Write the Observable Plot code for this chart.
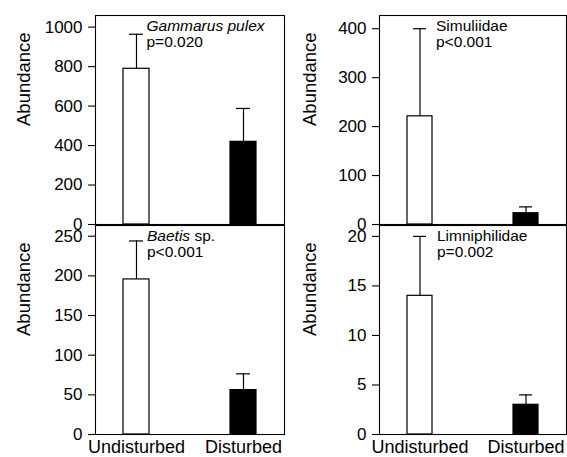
<!DOCTYPE html>
<html><head><meta charset="utf-8">
<script src="https://cdn.jsdelivr.net/npm/d3@7"></script>
<script src="https://cdn.jsdelivr.net/npm/@observablehq/plot@0.6"></script>
<style>
body{margin:0;background:#fff;}
#chart{position:relative;width:567px;height:457px;overflow:hidden;font-family:"Liberation Sans",Arial,sans-serif;}
#chart svg{position:absolute;overflow:visible;}
</style></head><body><div id="chart"></div>
<script>
// ---- data ----
const treatments = ["Undisturbed", "Disturbed"];
const taxa = ["Gammarus pulex", "Simuliidae", "Baetis sp.", "Limniphilidae"];
const pValues = ["p=0.020", "p<0.001", "p<0.001", "p=0.002"];
const yLabel = "Abundance";
const gammarusMean = [789, 419];
const gammarusSE = [175, 169];
const simuliidaeMean = [221, 23];
const simuliidaeSE = [179, 13];
const baetisMean = [195.5, 56];
const baetisSE = [48.5, 20.5];
const limniMean = [14, 3];
const limniSE = [6, 1];
const gammarusTicks = [0, 200, 400, 600, 800, 1000];
const simuliidaeTicks = [0, 100, 200, 300, 400];
const baetisTicks = [0, 50, 100, 150, 200, 250];
const limniTicks = [0, 5, 10, 15, 20];
const yMaxima = [1059, 427, 263.5, 21.1];

const means = [gammarusMean, simuliidaeMean, baetisMean, limniMean];
const ses = [gammarusSE, simuliidaeSE, baetisSE, limniSE];
const ticks = [gammarusTicks, simuliidaeTicks, baetisTicks, limniTicks];

// ---- layout (positions only) ----
const layout = [
  {left: 0,   top: 0,   width: 290, height: 228, ml: 95, mr: 6, mt: 15, mb: 4,  showX: false, labelDx: -71, titleDx: 51},
  {left: 285, top: 0,   width: 282, height: 228, ml: 94, mr: 1, mt: 15, mb: 4,  showX: false, labelDx: -69, titleDx: 56.5},
  {left: 0,   top: 224, width: 290, height: 233, ml: 95, mr: 6, mt: 1,  mb: 23, showX: true,  labelDx: -71, titleDx: 51.5},
  {left: 285, top: 224, width: 282, height: 233, ml: 94, mr: 1, mt: 1,  mb: 23, showX: true,  labelDx: -69, titleDx: 57.5}
];
const italicParts = {"Gammarus pulex": ["Gammarus pulex", ""], "Baetis sp.": ["Baetis", " sp."]};
const FONT = '"Liberation Sans", Arial, sans-serif';

const chart = document.getElementById("chart");

taxa.forEach((taxon, i) => {
  const L = layout[i];
  const rows = treatments.map((t, j) => ({treatment: t, mean: means[i][j], upper: means[i][j] + ses[i][j]}));
  const svg = Plot.plot({
    width: L.width, height: L.height,
    marginLeft: L.ml, marginRight: L.mr, marginTop: L.mt, marginBottom: L.mb,
    style: {background: "transparent", fontFamily: FONT, fontSize: "17px", color: "black", overflow: "visible"},
    x: {domain: treatments, paddingInner: 0.76, paddingOuter: 0.26, axis: null},
    y: {domain: [0, yMaxima[i]], axis: null},
    marks: [
      Plot.ruleX(rows, {x: "treatment", y1: "mean", y2: "upper", stroke: "black", strokeWidth: 1.2}),
      Plot.tickY(rows, {x: "treatment", y: "upper", insetLeft: 6, insetRight: 6, stroke: "black", strokeWidth: 1.2}),
      Plot.barY(rows.filter(d => d.treatment === "Undisturbed"), {x: "treatment", y: "mean", fill: "white", stroke: "black", strokeWidth: 1.2}),
      Plot.barY(rows.filter(d => d.treatment === "Disturbed"), {x: "treatment", y: "mean", fill: "black", stroke: "black", strokeWidth: 1.2}),
      Plot.frame({stroke: "black", strokeWidth: 1.1}),
      Plot.axisY({ticks: ticks[i], tickFormat: d3.format("d"), tickSize: 7, tickPadding: 6, label: null, fontSize: 17, strokeWidth: 1.1}),
      L.showX ? Plot.axisX({tickSize: 0, tickPadding: 5.5, label: null, fontSize: 18}) : null,
      Plot.text([yLabel], {frameAnchor: "left", rotate: -90, dx: L.labelDx, dy: 6, fontSize: 18.5, fill: "black"}),
      Plot.text([taxon], {frameAnchor: "top-left", textAnchor: "start", lineAnchor: "top", dx: L.titleDx, dy: 4.7, fontSize: 15.5, fill: "black"}),
      Plot.text([pValues[i]], {frameAnchor: "top-left", textAnchor: "start", lineAnchor: "top", dx: L.titleDx, dy: 20.7, fontSize: 15.5, fill: "black"})
    ]
  });
  svg.style.left = L.left + "px";
  svg.style.top = L.top + "px";
  if (italicParts[taxon]) {
    const [it, rest] = italicParts[taxon];
    d3.select(svg).selectAll("text").filter(function() { return this.textContent === taxon; }).each(function() {
      const t = d3.select(this);
      t.text(null).style("white-space", "pre");
      t.append("tspan").attr("font-style", "italic").text(it);
      if (rest) t.append("tspan").text(rest);
    });
  }
  chart.appendChild(svg);
});
</script>
</body></html>
